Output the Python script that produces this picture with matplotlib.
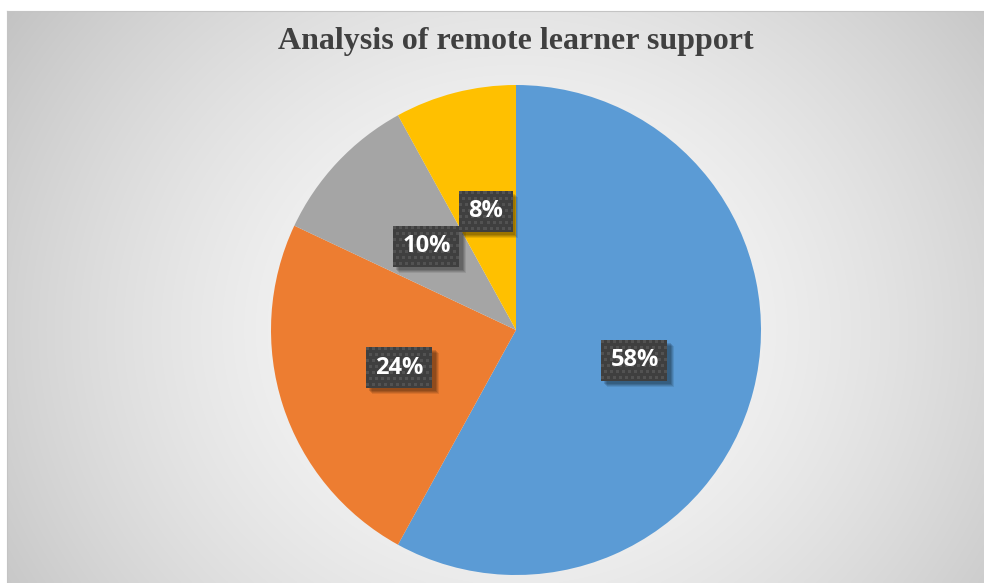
import numpy as np
import matplotlib
matplotlib.use("Agg")
import matplotlib.pyplot as plt
from matplotlib.patches import Rectangle

# Survey shares for remote learner support
categories = ["Category A", "Category B", "Category C", "Category D"]
shares = [58, 24, 10, 8]
slice_colors = ["#5B9BD5", "#ED7D31", "#A5A5A5", "#FFC000"]
title_text = "Analysis of remote learner support"

W, H = 984, 583
fig = plt.figure(figsize=(W / 100, H / 100), dpi=100)
fig.patch.set_facecolor("white")
ax = fig.add_axes([0, 0, 1, 1])

# Radial gradient chart-area background
x0, x1, y0, y1 = 7, W, 0, H - 11
cx, cy = 516, H - 330
xs = np.linspace(x0, x1, 500)
ys = np.linspace(y0, y1, 300)
X, Y = np.meshgrid(xs, ys)
t = np.sqrt(((X - cx) / 620.0) ** 2 + ((Y - cy) / 560.0) ** 2)
g = (251 - 56 * np.clip(t, 0, 1.05) ** 1.6) / 255.0
img = np.dstack([g, g, g])
ax.imshow(img, extent=[x0, x1, y0, y1], origin="lower", zorder=0, interpolation="bilinear")
ax.plot([x0, x0], [y0, y1], color="#c4c4c4", lw=0.8, zorder=1)
ax.plot([x0, x1], [y1, y1], color="#c4c4c4", lw=0.8, zorder=1)

radius = 245
wedges, _ = ax.pie(shares, colors=slice_colors, startangle=90, counterclock=False,
                   center=(cx, cy), radius=radius, frame=False,
                   wedgeprops=dict(linewidth=0, zorder=2))
ax.set_xlim(0, W)
ax.set_ylim(0, H)
ax.set_aspect("equal")
ax.axis("off")

renderer = fig.canvas.get_renderer()


def patterned_box(bx, by, bw, bh):
    """Dark label box with a staggered square dot pattern (pixel units)."""
    iw, ih = int(round(bw)), int(round(bh))
    ii, jj = np.mgrid[0:ih, 0:iw]
    light = (ii % 6 < 3) & (((jj - 3 * ((ii // 6) % 2)) % 6) < 3)
    dark = np.array([0x3f, 0x3f, 0x3f]) / 255.0
    lite = np.array([0x52, 0x52, 0x52]) / 255.0
    pat = np.where(light[..., None], lite, dark)
    ax.imshow(pat, extent=[bx, bx + iw, by, by + ih], origin="upper",
              interpolation="nearest", zorder=4)


# Percentage labels in patterned dark boxes with soft shadows
start = 90.0
for val in shares:
    span = val / sum(shares) * 360
    mid = np.deg2rad(start - span / 2)
    start -= span
    lx = cx + 0.5 * radius * np.cos(mid)
    ly = cy + 0.5 * radius * np.sin(mid)
    label = f"{val}%"
    txt = ax.text(lx, ly, label, ha="center", va="center", fontsize=17,
                  fontweight="bold", family="Open Sans", color="white", zorder=5)
    ext = txt.get_window_extent(renderer)
    bw = ext.width + 18
    bh = 41
    bx, by = lx - bw / 2, ly - bh / 2
    for dx, dy, a in [(6, -6, 0.09), (5, -5, 0.11), (4, -4, 0.13), (3, -3, 0.13)]:
        ax.add_patch(Rectangle((bx + dx, by + dy), bw, bh, facecolor="black",
                               edgecolor="none", alpha=a, zorder=3))
    patterned_box(bx, by, bw, bh)

ax.set_xlim(0, W)
ax.set_ylim(0, H)

ax.text(cx, H - 42, title_text, ha="center", va="center", fontsize=23,
        fontweight="bold", family="Liberation Serif", color="#404040", zorder=6)

fig.savefig("out.png", dpi=100, facecolor="white")
